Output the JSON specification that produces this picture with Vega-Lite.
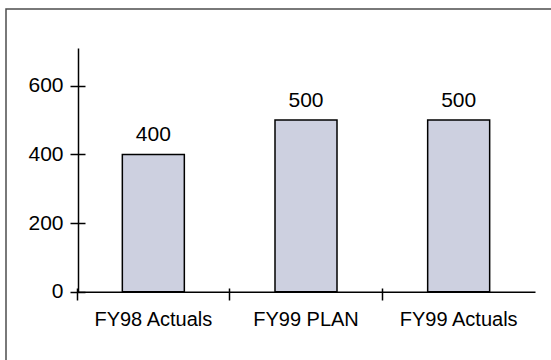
{
  "$schema": "https://vega.github.io/schema/vega-lite/v6.json",
  "width": 560,
  "height": 400,
  "autosize": "none",
  "padding": {"left": 6, "top": 9, "right": 0, "bottom": 0},
  "background": "white",
  "config": {
    "view": {"stroke": "#4d4d4d", "strokeWidth": 1.5},
    "font": "Liberation Sans"
  },
  "data": {
    "values": [
      {"period": "FY98 Actuals", "value": 400},
      {"period": "FY99 PLAN", "value": 500},
      {"period": "FY99 Actuals", "value": 500}
    ]
  },
  "layer": [
    {
      "mark": {"type": "bar", "size": 62, "fill": "#cdd0e0", "stroke": "#000000", "strokeWidth": 1.5},
      "encoding": {
        "x": {
          "field": "period", "type": "nominal", "sort": null,
          "scale": {"range": [71, 529], "paddingInner": 0, "paddingOuter": 0},
          "axis": {"orient": "bottom", "offset": -121, "domain": false, "labels": false, "ticks": true, "tickSize": 12, "bandPosition": 0, "tickWidth": 1.5, "tickColor": "#000000", "title": null, "grid": false}
        },
        "y": {
          "field": "value", "type": "quantitative",
          "scale": {"domain": [0, 710], "range": [282.7, 39], "nice": false, "zero": true},
          "axis": {"orient": "left", "offset": -79, "domain": false, "tickSize": 15, "tickWidth": 1.5, "tickColor": "#000000", "labelPadding": 7, "labelFontSize": 21, "labelColor": "#000000", "values": [0, 200, 400, 600], "title": null, "grid": false}
        }
      }
    },
    {
      "mark": {"type": "text", "baseline": "alphabetic", "align": "center", "dy": -13, "fontSize": 21, "color": "#000000"},
      "encoding": {
        "x": {
          "field": "period", "type": "nominal", "sort": null,
          "axis": {"orient": "bottom", "offset": -117.3, "domain": true, "domainColor": "#000000", "domainWidth": 1.5, "ticks": false, "tickSize": 0, "labelPadding": 18, "labelFontSize": 20, "labelAngle": 0, "labelColor": "#000000", "title": null, "grid": false}
        },
        "y": {
          "field": "value", "type": "quantitative",
          "axis": {"orient": "left", "offset": -72, "domain": true, "domainColor": "#000000", "domainWidth": 1.5, "ticks": false, "labels": false, "title": null, "grid": false}
        },
        "text": {"field": "value", "type": "quantitative"}
      }
    }
  ],
  "resolve": {"axis": {"x": "independent", "y": "independent"}}
}
